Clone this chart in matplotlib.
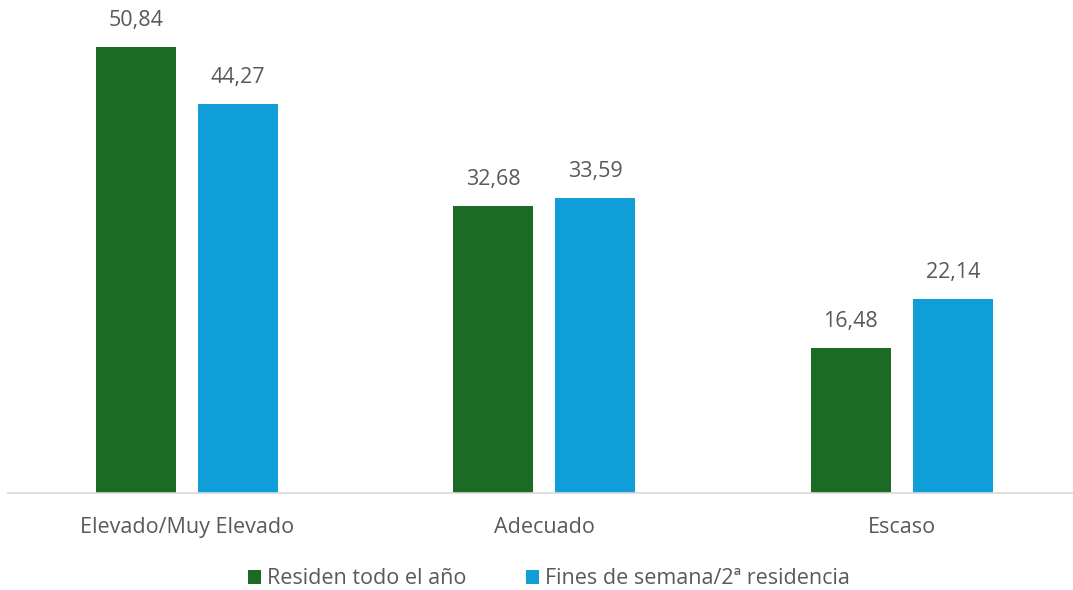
import matplotlib.pyplot as plt
import numpy as np

categorias = ['Elevado/Muy Elevado', 'Adecuado', 'Escaso']
residen = [50.84, 32.68, 16.48]
fines_semana = [44.27, 33.59, 22.14]
series = ['Residen todo el año', 'Fines de semana/2ª residencia']

verde = '#1b6b24'
azul = '#109ed8'
gris_txt = '#595959'

plt.rcParams['font.family'] = ['Open Sans', 'DejaVu Sans']

fig = plt.figure(figsize=(10.73, 5.90), dpi=100)
ax = fig.add_axes([8 / 1073, 1 - 493 / 590, 1065 / 1073, 483 / 590])

x = np.arange(len(categorias))
ancho = 0.224
desp = 0.1427

b1 = ax.bar(x - desp, residen, ancho, color=verde, label=series[0])
b2 = ax.bar(x + desp, fines_semana, ancho, color=azul, label=series[1])

for barras, valores in ((b1, residen), (b2, fines_semana)):
    for b, v in zip(barras, valores):
        ax.text(b.get_x() + b.get_width() / 2, v + 1.8, f'{v:.2f}'.replace('.', ','),
                ha='center', va='bottom', fontsize=15.5, color=gris_txt)

ax.set_xlim(-0.5, 2.479)
ax.set_ylim(0, 55)
ax.set_yticks([])
ax.set_xticks(x)
ax.set_xticklabels(categorias, fontsize=15.5, color=gris_txt)
ax.tick_params(axis='x', length=0, pad=17)
for lado in ('top', 'right', 'left'):
    ax.spines[lado].set_visible(False)
ax.spines['bottom'].set_color('#d9d9d9')
ax.spines['bottom'].set_linewidth(1.2)

leg = fig.legend(handles=[b1, b2], loc='center', bbox_to_anchor=(549 / 1073, 1 - 579 / 590),
                 ncol=2, frameon=False, fontsize=15.5, handlelength=0.6, handleheight=0.6,
                 handletextpad=0.25, columnspacing=2.8)
for t in leg.get_texts():
    t.set_color(gris_txt)

fig.savefig('out.png', dpi=100)
